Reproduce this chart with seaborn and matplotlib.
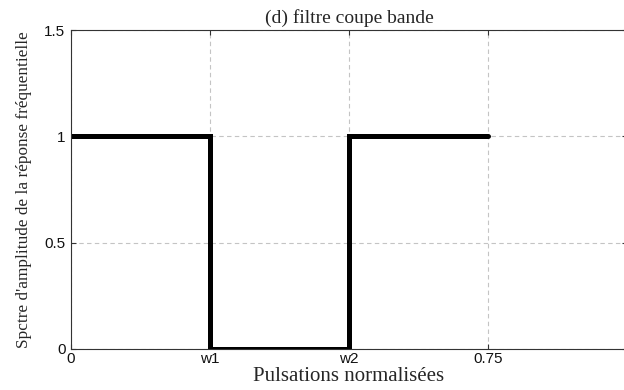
import matplotlib
matplotlib.use("Agg")
import matplotlib.pyplot as plt
import seaborn as sns
import pandas as pd

# Ideal band-stop response (normalised pulsation)
pulsation = [0.0, 0.25, 0.25, 0.5, 0.5, 0.75]
amplitude = [1.0, 1.0, 0.0, 0.0, 1.0, 1.0]
xtick_pos = [0.0, 0.25, 0.5, 0.75]
xtick_labels = ["0", "w1", "w2", "0.75"]
ytick_pos = [0.0, 0.5, 1.0, 1.5]
ytick_labels = ["0", "0.5", "1", "1.5"]

df = pd.DataFrame({"w": pulsation, "A": amplitude})

sns.set_theme(style="white")
plt.rcParams["font.family"] = ["Liberation Sans", "DejaVu Sans"]

fig = plt.figure(figsize=(6.24, 3.90), dpi=100)
ax = fig.add_axes([71 / 624, 41 / 390, 556 / 624, 319 / 390])

sns.lineplot(data=df, x="w", y="A", sort=False, estimator=None,
             color="black", linewidth=3.6, ax=ax, solid_joinstyle="miter")

ax.set_xlim(0, 1)
ax.set_ylim(0, 1.5)
ax.set_xticks(xtick_pos)
ax.set_xticklabels(xtick_labels)
ax.set_yticks(ytick_pos)
ax.set_yticklabels(ytick_labels)

ax.grid(True, linestyle=(0, (4, 3)), color="#c4c4c4", linewidth=0.8)
ax.set_axisbelow(True)

for side in ["left", "bottom", "top", "right"]:
    ax.spines[side].set_visible(True)
    ax.spines[side].set_color("#333333")
    ax.spines[side].set_linewidth(0.8)

ax.tick_params(axis="both", direction="in", length=3.5, width=0.8,
               color="#333333", labelsize=11, labelcolor="#111111",
               top=True, right=True, bottom=True, left=True)
ax.tick_params(axis="x", pad=2)
ax.tick_params(axis="y", pad=4)

serif = ["Liberation Serif", "DejaVu Serif"]
ax.set_title("(d) filtre coupe bande", family=serif, fontsize=14, pad=5)
ax.set_xlabel("Pulsations normalisées", family=serif, fontsize=15, labelpad=1)
ax.set_ylabel("Spctre d'amplitude de la réponse fréquentielle", family=serif,
              fontsize=12.4, labelpad=9)

fig.savefig("out.png", dpi=100)
